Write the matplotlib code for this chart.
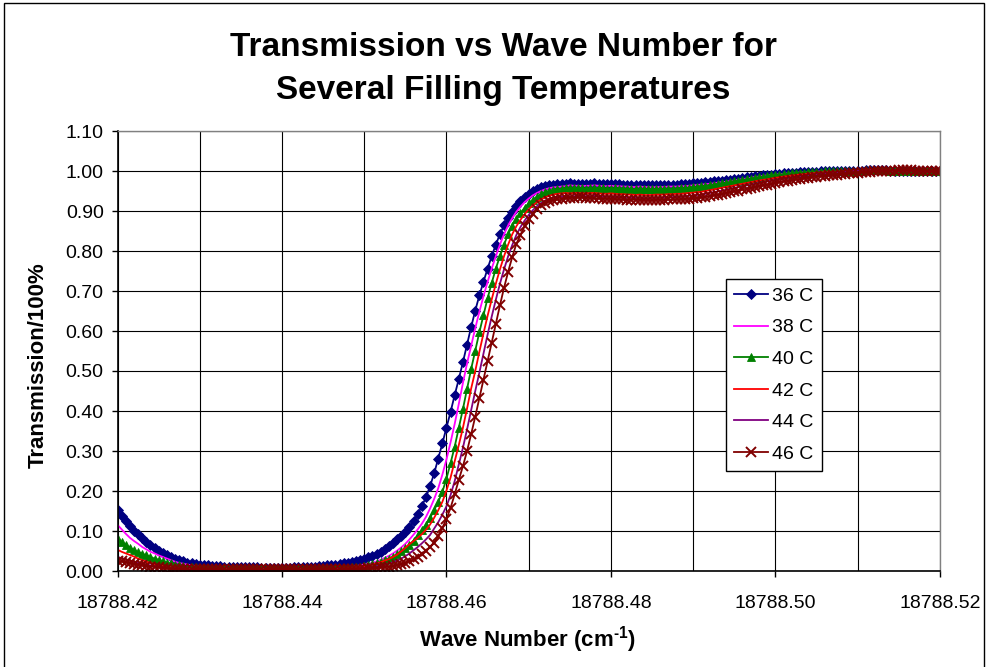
import numpy as np
import matplotlib
matplotlib.use("Agg")
import matplotlib.pyplot as plt
from matplotlib.patches import Rectangle
from matplotlib.ticker import MultipleLocator, FormatStrFormatter

plt.rcParams['font.family'] = ['Liberation Sans', 'DejaVu Sans']
plt.rcParams['mathtext.fontset'] = 'custom'
plt.rcParams['mathtext.rm'] = 'Liberation Sans'
plt.rcParams['mathtext.bf'] = 'Liberation Sans:bold'

# wave number grid (cm^-1), 0.0005 spacing
wn_start = 18788.42
wn_step = 0.0005
n_points = 201

labels = ["36 C", "38 C", "40 C", "42 C", "44 C", "46 C"]

t36 = [0.152, 0.138, 0.124, 0.112, 0.101, 0.092, 0.082, 0.073, 0.065, 0.057,
       0.051, 0.045, 0.040, 0.035, 0.031, 0.027, 0.024, 0.021, 0.019, 0.017,
       0.016, 0.015, 0.014, 0.013, 0.012, 0.012, 0.011, 0.011, 0.010, 0.010,
       0.010, 0.009, 0.009, 0.009, 0.009, 0.008, 0.008, 0.008, 0.008, 0.008,
       0.008, 0.008, 0.008, 0.009, 0.009, 0.009, 0.010, 0.010, 0.011, 0.012,
       0.013, 0.014, 0.015, 0.016, 0.018, 0.019, 0.021, 0.023, 0.025, 0.028,
       0.031, 0.034, 0.038, 0.043, 0.048, 0.055, 0.063, 0.071, 0.079, 0.088,
       0.097, 0.109, 0.124, 0.142, 0.162, 0.184, 0.212, 0.244, 0.281, 0.319,
       0.358, 0.398, 0.440, 0.480, 0.522, 0.566, 0.610, 0.651, 0.689, 0.723,
       0.756, 0.787, 0.816, 0.842, 0.864, 0.882, 0.898, 0.912, 0.924, 0.934,
       0.943, 0.950, 0.955, 0.959, 0.962, 0.964, 0.966, 0.967, 0.968, 0.968,
       0.969, 0.968, 0.968, 0.967, 0.968, 0.968, 0.969, 0.968, 0.967, 0.967,
       0.968, 0.967, 0.967, 0.966, 0.966, 0.965, 0.965, 0.966, 0.965, 0.965,
       0.964, 0.965, 0.965, 0.965, 0.966, 0.966, 0.966, 0.967, 0.967, 0.968,
       0.969, 0.970, 0.971, 0.972, 0.973, 0.974, 0.975, 0.976, 0.977, 0.978,
       0.980, 0.981, 0.983, 0.984, 0.986, 0.987, 0.988, 0.989, 0.990, 0.991,
       0.992, 0.993, 0.994, 0.995, 0.996, 0.996, 0.997, 0.997, 0.998, 0.998,
       0.998, 0.999, 0.999, 0.999, 1.000, 1.000, 1.000, 1.000, 1.001, 1.001,
       1.001, 1.001, 1.002, 1.002, 1.002, 1.002, 1.002, 1.002, 1.001, 1.001,
       1.001, 1.001, 1.000, 1.000, 1.000, 1.000, 0.999, 0.999, 0.999, 0.999,
       0.999]

t38 = [0.115, 0.104, 0.093, 0.083, 0.075, 0.068, 0.060, 0.054, 0.048, 0.044,
       0.039, 0.035, 0.031, 0.027, 0.023, 0.020, 0.018, 0.016, 0.014, 0.012,
       0.011, 0.010, 0.009, 0.008, 0.007, 0.007, 0.006, 0.006, 0.006, 0.006,
       0.006, 0.006, 0.006, 0.006, 0.006, 0.006, 0.005, 0.005, 0.005, 0.005,
       0.005, 0.005, 0.005, 0.005, 0.005, 0.005, 0.005, 0.005, 0.005, 0.005,
       0.006, 0.006, 0.007, 0.007, 0.008, 0.009, 0.010, 0.011, 0.012, 0.014,
       0.016, 0.018, 0.021, 0.024, 0.028, 0.033, 0.038, 0.044, 0.051, 0.059,
       0.068, 0.079, 0.091, 0.104, 0.118, 0.135, 0.156, 0.180, 0.207, 0.241,
       0.279, 0.322, 0.368, 0.418, 0.470, 0.519, 0.563, 0.607, 0.648, 0.687,
       0.723, 0.756, 0.787, 0.816, 0.842, 0.864, 0.882, 0.898, 0.911, 0.922,
       0.931, 0.939, 0.945, 0.950, 0.954, 0.957, 0.959, 0.960, 0.961, 0.962,
       0.964, 0.963, 0.963, 0.962, 0.963, 0.963, 0.964, 0.963, 0.962, 0.962,
       0.963, 0.962, 0.962, 0.961, 0.961, 0.960, 0.960, 0.961, 0.960, 0.960,
       0.959, 0.960, 0.960, 0.960, 0.961, 0.961, 0.961, 0.962, 0.962, 0.963,
       0.964, 0.965, 0.966, 0.967, 0.968, 0.969, 0.971, 0.972, 0.973, 0.975,
       0.976, 0.978, 0.980, 0.981, 0.983, 0.985, 0.986, 0.988, 0.989, 0.990,
       0.991, 0.992, 0.993, 0.994, 0.995, 0.996, 0.996, 0.997, 0.997, 0.998,
       0.998, 0.999, 0.999, 0.999, 1.000, 1.000, 1.000, 1.000, 1.001, 1.001,
       1.001, 1.001, 1.002, 1.002, 1.002, 1.002, 1.002, 1.002, 1.001, 1.001,
       1.001, 1.001, 1.000, 1.000, 1.000, 1.000, 0.999, 0.999, 0.999, 0.999,
       0.999]

t40 = [0.079, 0.072, 0.065, 0.058, 0.052, 0.047, 0.043, 0.039, 0.035, 0.031,
       0.028, 0.024, 0.021, 0.019, 0.016, 0.014, 0.012, 0.011, 0.010, 0.009,
       0.008, 0.007, 0.007, 0.006, 0.006, 0.005, 0.005, 0.005, 0.005, 0.005,
       0.005, 0.005, 0.005, 0.005, 0.005, 0.005, 0.005, 0.005, 0.005, 0.005,
       0.005, 0.005, 0.005, 0.005, 0.005, 0.005, 0.005, 0.005, 0.005, 0.005,
       0.005, 0.005, 0.005, 0.006, 0.006, 0.007, 0.008, 0.009, 0.010, 0.011,
       0.013, 0.015, 0.017, 0.020, 0.023, 0.027, 0.031, 0.036, 0.042, 0.049,
       0.057, 0.066, 0.076, 0.089, 0.103, 0.116, 0.133, 0.152, 0.173, 0.198,
       0.231, 0.270, 0.311, 0.358, 0.405, 0.455, 0.505, 0.551, 0.597, 0.640,
       0.682, 0.720, 0.756, 0.787, 0.816, 0.842, 0.863, 0.880, 0.895, 0.908,
       0.919, 0.928, 0.936, 0.942, 0.947, 0.950, 0.953, 0.955, 0.956, 0.957,
       0.957, 0.958, 0.957, 0.957, 0.956, 0.957, 0.957, 0.958, 0.957, 0.956,
       0.956, 0.957, 0.956, 0.956, 0.955, 0.955, 0.954, 0.955, 0.955, 0.954,
       0.954, 0.955, 0.955, 0.955, 0.956, 0.956, 0.956, 0.957, 0.957, 0.958,
       0.959, 0.960, 0.962, 0.963, 0.965, 0.966, 0.968, 0.969, 0.971, 0.972,
       0.974, 0.976, 0.978, 0.979, 0.981, 0.983, 0.984, 0.986, 0.987, 0.989,
       0.990, 0.991, 0.992, 0.993, 0.994, 0.995, 0.996, 0.996, 0.997, 0.997,
       0.998, 0.998, 0.999, 0.999, 1.000, 1.000, 1.000, 1.000, 1.001, 1.001,
       1.001, 1.001, 1.002, 1.002, 1.002, 1.002, 1.002, 1.002, 1.001, 1.001,
       1.001, 1.001, 1.000, 1.000, 1.000, 1.000, 0.999, 0.999, 0.999, 0.999,
       0.999]

t42 = [0.053, 0.048, 0.044, 0.040, 0.036, 0.031, 0.027, 0.023, 0.020, 0.017,
       0.014, 0.012, 0.010, 0.009, 0.008, 0.007, 0.006, 0.006, 0.005, 0.005,
       0.004, 0.004, 0.004, 0.004, 0.004, 0.004, 0.004, 0.004, 0.004, 0.004,
       0.004, 0.004, 0.004, 0.004, 0.004, 0.004, 0.004, 0.004, 0.004, 0.004,
       0.004, 0.004, 0.004, 0.004, 0.004, 0.004, 0.004, 0.004, 0.004, 0.004,
       0.004, 0.004, 0.005, 0.005, 0.006, 0.006, 0.007, 0.008, 0.009, 0.010,
       0.012, 0.014, 0.016, 0.019, 0.022, 0.026, 0.030, 0.035, 0.041, 0.049,
       0.058, 0.067, 0.075, 0.083, 0.092, 0.103, 0.116, 0.133, 0.152, 0.173,
       0.201, 0.234, 0.274, 0.315, 0.358, 0.406, 0.456, 0.500, 0.548, 0.594,
       0.638, 0.679, 0.718, 0.754, 0.787, 0.816, 0.842, 0.862, 0.878, 0.892,
       0.904, 0.914, 0.922, 0.929, 0.934, 0.938, 0.941, 0.943, 0.944, 0.945,
       0.944, 0.945, 0.945, 0.944, 0.944, 0.945, 0.945, 0.944, 0.943, 0.943,
       0.944, 0.943, 0.942, 0.942, 0.941, 0.941, 0.940, 0.941, 0.940, 0.940,
       0.940, 0.941, 0.941, 0.941, 0.942, 0.942, 0.943, 0.943, 0.944, 0.945,
       0.946, 0.947, 0.948, 0.950, 0.952, 0.954, 0.956, 0.958, 0.960, 0.962,
       0.964, 0.966, 0.968, 0.970, 0.972, 0.974, 0.976, 0.978, 0.979, 0.981,
       0.983, 0.984, 0.986, 0.987, 0.988, 0.990, 0.991, 0.992, 0.993, 0.994,
       0.995, 0.996, 0.997, 0.997, 0.998, 0.998, 0.999, 1.000, 1.001, 1.001,
       1.001, 1.001, 1.002, 1.002, 1.002, 1.002, 1.002, 1.002, 1.001, 1.001,
       1.001, 1.001, 1.000, 1.000, 1.000, 1.000, 0.999, 0.999, 0.999, 0.999,
       0.999]

t44 = [0.035, 0.032, 0.029, 0.026, 0.023, 0.020, 0.018, 0.016, 0.014, 0.012,
       0.010, 0.009, 0.008, 0.007, 0.006, 0.005, 0.004, 0.004, 0.004, 0.004,
       0.004, 0.004, 0.004, 0.004, 0.004, 0.004, 0.004, 0.004, 0.004, 0.004,
       0.004, 0.004, 0.004, 0.004, 0.004, 0.004, 0.004, 0.004, 0.004, 0.004,
       0.004, 0.004, 0.004, 0.004, 0.004, 0.004, 0.004, 0.004, 0.004, 0.004,
       0.004, 0.004, 0.004, 0.004, 0.005, 0.005, 0.005, 0.006, 0.006, 0.007,
       0.008, 0.009, 0.010, 0.012, 0.014, 0.016, 0.019, 0.022, 0.026, 0.031,
       0.037, 0.044, 0.052, 0.060, 0.069, 0.079, 0.090, 0.106, 0.122, 0.141,
       0.162, 0.190, 0.225, 0.266, 0.308, 0.354, 0.402, 0.450, 0.496, 0.544,
       0.591, 0.636, 0.678, 0.718, 0.754, 0.787, 0.815, 0.840, 0.860, 0.876,
       0.890, 0.902, 0.912, 0.920, 0.926, 0.930, 0.933, 0.935, 0.936, 0.937,
       0.936, 0.937, 0.938, 0.938, 0.937, 0.937, 0.938, 0.937, 0.936, 0.936,
       0.936, 0.935, 0.935, 0.934, 0.934, 0.933, 0.933, 0.933, 0.932, 0.932,
       0.933, 0.933, 0.933, 0.934, 0.934, 0.935, 0.935, 0.936, 0.937, 0.938,
       0.939, 0.940, 0.941, 0.943, 0.945, 0.947, 0.949, 0.951, 0.953, 0.956,
       0.958, 0.960, 0.962, 0.964, 0.966, 0.968, 0.970, 0.972, 0.974, 0.976,
       0.978, 0.979, 0.981, 0.983, 0.984, 0.986, 0.987, 0.988, 0.990, 0.991,
       0.992, 0.993, 0.994, 0.995, 0.996, 0.997, 0.997, 0.998, 0.999, 1.000,
       1.001, 1.001, 1.002, 1.002, 1.002, 1.002, 1.002, 1.002, 1.001, 1.001,
       1.001, 1.001, 1.000, 1.000, 1.000, 1.000, 0.999, 0.999, 0.999, 0.999,
       0.999]

t46 = [0.025, 0.024, 0.022, 0.020, 0.018, 0.016, 0.014, 0.013, 0.011, 0.010,
       0.009, 0.008, 0.007, 0.006, 0.006, 0.005, 0.004, 0.004, 0.004, 0.004,
       0.004, 0.004, 0.004, 0.004, 0.004, 0.004, 0.004, 0.004, 0.004, 0.004,
       0.004, 0.004, 0.004, 0.004, 0.004, 0.004, 0.004, 0.004, 0.004, 0.004,
       0.004, 0.004, 0.004, 0.004, 0.004, 0.004, 0.004, 0.004, 0.004, 0.004,
       0.004, 0.004, 0.004, 0.004, 0.004, 0.004, 0.005, 0.005, 0.005, 0.006,
       0.006, 0.007, 0.007, 0.008, 0.009, 0.010, 0.011, 0.013, 0.015, 0.017,
       0.020, 0.024, 0.029, 0.035, 0.042, 0.050, 0.060, 0.071, 0.088, 0.108,
       0.130, 0.158, 0.192, 0.228, 0.262, 0.300, 0.342, 0.386, 0.432, 0.478,
       0.524, 0.571, 0.618, 0.664, 0.708, 0.748, 0.785, 0.818, 0.840, 0.862,
       0.879, 0.893, 0.905, 0.914, 0.920, 0.924, 0.927, 0.929, 0.931, 0.932,
       0.933, 0.933, 0.934, 0.934, 0.933, 0.933, 0.932, 0.932, 0.931, 0.931,
       0.930, 0.930, 0.929, 0.929, 0.928, 0.928, 0.928, 0.928, 0.927, 0.927,
       0.927, 0.928, 0.928, 0.928, 0.929, 0.929, 0.929, 0.930, 0.930, 0.931,
       0.932, 0.933, 0.934, 0.936, 0.937, 0.939, 0.941, 0.943, 0.945, 0.947,
       0.949, 0.951, 0.954, 0.956, 0.958, 0.960, 0.962, 0.964, 0.966, 0.968,
       0.971, 0.972, 0.974, 0.976, 0.977, 0.979, 0.980, 0.982, 0.983, 0.985,
       0.986, 0.987, 0.988, 0.989, 0.990, 0.991, 0.992, 0.993, 0.994, 0.995,
       0.996, 0.997, 0.998, 0.998, 0.999, 0.999, 1.000, 1.000, 1.001, 1.001,
       1.002, 1.002, 1.002, 1.002, 1.001, 1.001, 1.001, 1.000, 1.000, 0.999,
       0.999]

series = [t36, t38, t40, t42, t44, t46]
colors = ["#000080", "#FF00FF", "#008000", "#FF0000", "#800080", "#800000"]
markers = ["D", None, "^", None, None, "x"]
msizes = [4.7, 0, 6.2, 0, 0, 6.6]

wn = wn_start + wn_step * np.arange(n_points)

W, H = 991, 667
fig = plt.figure(figsize=(W / 100, H / 100), dpi=100)
fig.patch.set_facecolor("white")

# outer chart border
fig.patches.append(Rectangle((4 / W, -0.02), 980 / W, 1 - 3 / H + 0.02,
                             transform=fig.transFigure, fill=False,
                             edgecolor="black", linewidth=1.0))

left, right, top, bottom = 117.6, 939.8, 131.0, 571.0
ax = fig.add_axes([left / W, 1 - bottom / H, (right - left) / W, (bottom - top) / H])

for vals, lab, col, mk, ms in zip(series, labels, colors, markers, msizes):
    kw = dict(color=col, linewidth=1.3, label=lab)
    if mk is not None:
        kw.update(marker=mk, markersize=ms, markerfacecolor=col,
                  markeredgecolor=col, markeredgewidth=1.4 if mk == "x" else 0.6)
    ax.plot(wn, vals, **kw)

ax.set_xlim(18788.42, 18788.52)
ax.set_ylim(0.0, 1.10)
ax.xaxis.set_major_locator(MultipleLocator(0.02))
ax.xaxis.set_minor_locator(MultipleLocator(0.01))
ax.yaxis.set_major_locator(MultipleLocator(0.1))
ax.xaxis.set_major_formatter(FormatStrFormatter("%.2f"))
ax.yaxis.set_major_formatter(FormatStrFormatter("%.2f"))

ax.grid(which="both", axis="x", color="#000000", linewidth=0.8)
ax.grid(which="major", axis="y", color="#000000", linewidth=0.8)
ax.set_axisbelow(True)
ax.tick_params(axis="both", which="major", direction="out", length=4,
               width=1, labelsize=14, colors="black")
ax.tick_params(axis="x", which="major", pad=13)
ax.tick_params(axis="y", which="major", pad=6)
ax.tick_params(axis="x", which="minor", length=0)

for s in ("left", "bottom"):
    ax.spines[s].set_color("black")
    ax.spines[s].set_linewidth(1.2)
for s in ("top", "right"):
    ax.spines[s].set_color("#808080")
    ax.spines[s].set_linewidth(1.0)

fig.text(503 / W, 1 - 47 / H, "Transmission vs Wave Number for",
         ha="center", va="center", fontsize=24, fontweight="bold")
fig.text(503 / W, 1 - 90 / H, "Several Filling Temperatures",
         ha="center", va="center", fontsize=24, fontweight="bold")
fig.text(38 / W, 1 - 365 / H, "Transmission/100%", rotation=90,
         ha="center", va="center", fontsize=16, fontweight="bold")
fig.text(528 / W, 1 - 640 / H, "Wave Number (cm$^{\\mathbf{\u20101}}$)",
         ha="center", va="center", fontsize=16, fontweight="bold")

leg = ax.legend(loc="upper left", bbox_to_anchor=(726 / W, 1 - 279 / H),
                bbox_transform=fig.transFigure, frameon=True, fancybox=False,
                shadow=False, fontsize=14, numpoints=1, handlelength=1.75,
                handletextpad=0.22, labelspacing=0.72, borderpad=0.42,
                borderaxespad=0.0)
leg.get_frame().set_edgecolor("black")
leg.get_frame().set_linewidth(1.0)
leg.get_frame().set_alpha(1.0)

fig.savefig("out.png", dpi=100)
